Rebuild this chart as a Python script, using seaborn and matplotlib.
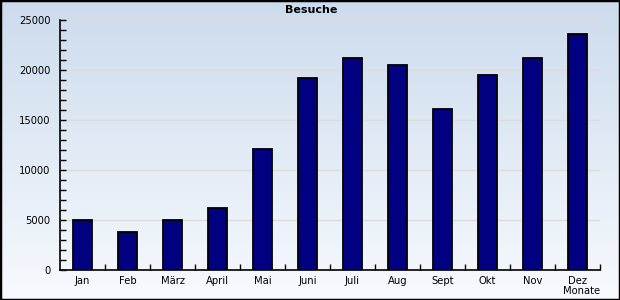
import numpy as np
import pandas as pd
import matplotlib
matplotlib.use("Agg")
import matplotlib.pyplot as plt
from matplotlib.patches import Rectangle
from matplotlib.ticker import MultipleLocator
import seaborn as sns

months = ["Jan", "Feb", "März", "April", "Mai", "Juni", "Juli", "Aug", "Sept", "Okt", "Nov", "Dez"]
visits = [5000, 3800, 5000, 6200, 12100, 19200, 21200, 20500, 16100, 19500, 21200, 23600]
title = "Besuche"
xlabel = "Monate"

df = pd.DataFrame({"Monat": months, "Besuche": visits})

sns.set_style("white")
plt.rcParams["font.family"] = ["DejaVu Sans"]
plt.rcParams["text.color"] = "black"
plt.rcParams["xtick.color"] = "black"
plt.rcParams["ytick.color"] = "black"
plt.rcParams["xtick.direction"] = "in"
plt.rcParams["ytick.direction"] = "in"

fig = plt.figure(figsize=(6.2, 3.0), dpi=100)

# background gradient
bg = fig.add_axes([0, 0, 1, 1], zorder=-10)
top = np.array([0.80, 0.86, 0.93])
bot = np.array([0.97, 0.98, 0.995])
t = np.linspace(0, 1, 300)[:, None]
grad = top[None, :] * (1 - t) + bot[None, :] * t
bg.imshow(grad[:, None, :], aspect="auto", extent=[0, 1, 0, 1], origin="upper")
bg.set_axis_off()

ax = fig.add_axes([60 / 620, 30 / 300, 540 / 620, 250 / 300])
ax.patch.set_alpha(0)
sns.barplot(data=df, x="Monat", y="Besuche", color="#000080", edgecolor="black",
            linewidth=1.3, width=0.42, saturation=1, ax=ax, zorder=3)

ax.set_xlim(-0.5, 11.5)
ax.set_ylim(0, 25000)
ax.yaxis.set_major_locator(MultipleLocator(5000))
ax.yaxis.set_minor_locator(MultipleLocator(1000))
ax.set_xticks(range(len(months)))
ax.set_xticklabels(months)
ax.set_xticks(np.arange(0.5, 11.6, 1), minor=True)
ax.tick_params(axis="x", which="major", bottom=True, length=0, pad=4, labelsize=7.2, labelcolor="black")
ax.tick_params(axis="x", which="minor", bottom=True, direction="in", length=4, width=1, color="black")
ax.tick_params(axis="y", which="both", left=True, direction="in", length=4, width=1, color="black",
               labelsize=7.2, pad=7, labelcolor="black")
ax.grid(axis="y", which="major", color="#dcdcdc", linewidth=1, zorder=0)
ax.set_axisbelow(True)
for s in ["top", "right"]:
    ax.spines[s].set_visible(False)
for s in ["left", "bottom"]:
    ax.spines[s].set_color("black")
    ax.spines[s].set_linewidth(1.2)
ax.set_xlabel("")
ax.set_ylabel("")

fig.text(311 / 620, 1 - 10 / 300, title, ha="center", va="center", fontsize=8,
         fontweight="bold", color="black")
fig.text(582 / 620, 1 - 291 / 300, xlabel, ha="center", va="center", fontsize=7.2, color="black")

fig.patches.append(Rectangle((0, 0), 1, 1, transform=fig.transFigure, fill=False,
                             edgecolor="black", linewidth=2.5, zorder=10))

fig.savefig("out.png", dpi=100)
